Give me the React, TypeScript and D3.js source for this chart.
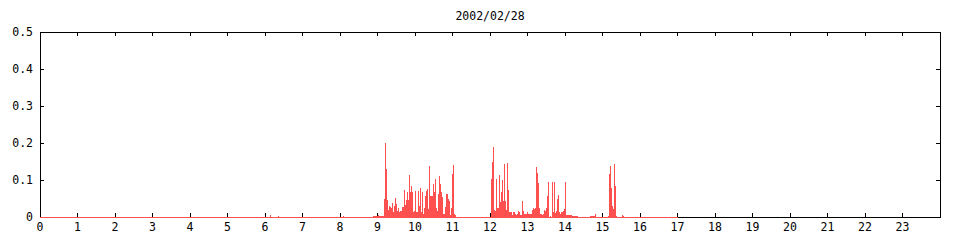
import React from "react";
import * as d3 from "d3";

const title = "2002/02/28";
const yTicks = [0, 0.1, 0.2, 0.3, 0.4, 0.5];
const yTickLabels = ["0", "0.1", "0.2", "0.3", "0.4", "0.5"];
const xTicks = d3.range(0, 24);
const xTickLabels = xTicks.map(String);

// sampling step of the series (1.6 minutes)
const stepMinutes = 1.6;
const seriesStartHour = 0;
const seriesEndHour = 17;

// isolated small samples
const sparseHours = [6.13, 6.35, 8.08];
const sparseValues = [0.006, 0.003, 0.003];

// contiguous runs of samples
const runStartHours = [8.88, 12.027, 14.667];
const runA = [
  0.004, 0.004, 0.004, 0.004, 0.004, 0.006, 0.002, 0.002, 0.002, 0.002, 0.002,
  0.05, 0.2, 0.13, 0.045, 0.02, 0.03, 0.027, 0.024, 0.038, 0.013, 0.03, 0.052,
  0.036, 0.015, 0.024, 0.013, 0.017, 0.017, 0.027, 0.027, 0.074, 0.032, 0.045,
  0.068, 0.047, 0.114, 0.068, 0.083, 0.068, 0.014, 0.016, 0.071, 0.014, 0.014,
  0.071, 0.031, 0.079, 0.013, 0.067, 0.009, 0.023, 0.058, 0.071, 0.076, 0.022,
  0.137, 0.058, 0.058, 0.056, 0.088, 0.067, 0.103, 0.023, 0.016, 0.061, 0.112,
  0.089, 0.068, 0.053, 0.007, 0.007, 0.027, 0.063, 0.063, 0.049, 0.043, 0.005,
  0.025, 0.115, 0.14, 0.007, 0.005,
];
const runB = [
  0.104, 0.15, 0.19, 0.02, 0.016, 0.104, 0.023, 0.024, 0.114, 0.041, 0.067,
  0.101, 0.044, 0.144, 0.044, 0.02, 0.146, 0.074, 0.014, 0.014, 0.014, 0.005,
  0.014, 0.014, 0.007, 0.005, 0.009, 0.017, 0.014, 0.006, 0.005, 0.042, 0.017,
  0.009, 0.009, 0.009, 0.014, 0.009, 0.009, 0.007, 0.009, 0.02, 0.023, 0.022,
  0.023, 0.134, 0.119, 0.092, 0.023, 0.007, 0.009, 0.006, 0.009, 0.018, 0.016,
  0.023, 0.058, 0.095, 0.001, 0.002, 0.001, 0.095, 0.013, 0.095, 0.011, 0.016,
  0.049, 0.06, 0.014, 0.009, 0.013, 0.014, 0.017, 0.022, 0.094, 0.006, 0.006,
  0.006, 0.006, 0.006, 0.006, 0.004, 0.004, 0.004, 0.004, 0.004, 0.004,
];
const runC = [
  0.004, 0.004, 0.004, 0.004, 0.004, 0.008, 0, 0, 0, 0, 0, 0, 0, 0, 0, 0, 0, 0,
  0.003, 0.117, 0.139, 0.078, 0.03, 0.022, 0.144, 0.083, 0.002, 0, 0, 0, 0, 0,
  0.006, 0.004,
];
const runs = [runA, runB, runC];

const W = 960;
const H = 240;
const margin = { left: 40, right: 20, top: 32, bottom: 23 };
const red = "#ff5050";
const font = "'DejaVu Sans Mono', monospace";

export default function App() {
  const x = d3.scaleLinear().domain([0, 24]).range([margin.left, W - margin.right]);
  const y = d3.scaleLinear().domain([0, 0.5]).range([H - margin.bottom, margin.top]);
  const step = stepMinutes / 60;

  const points: { h: number; v: number }[] = [];
  sparseHours.forEach((h, i) => points.push({ h, v: sparseValues[i] }));
  runs.forEach((r, ri) =>
    r.forEach((v, i) => points.push({ h: runStartHours[ri] + i * step, v }))
  );

  const x0 = margin.left;
  const x1 = W - margin.right;
  const y0 = y(0);
  const yTop = margin.top;
  const tl = 4;

  return (
    <svg
      width={W}
      height={H}
      style={{ position: "absolute", left: 0, top: 0, background: "#fff" }}
      fontFamily={font}
      fontSize={11.5}
    >
      <text x={(x0 + x1) / 2} y={20} textAnchor="middle" fill="#000">
        {title}
      </text>
      <rect
        x={x0}
        y={yTop}
        width={x1 - x0}
        height={y0 - yTop}
        fill="none"
        stroke="#000"
        strokeWidth={1}
        shapeRendering="crispEdges"
      />
      {yTicks.map((t, i) => (
        <g key={"y" + i} shapeRendering="crispEdges">
          <line x1={x0} x2={x0 + tl} y1={y(t)} y2={y(t)} stroke="#000" />
          <line x1={x1} x2={x1 - tl} y1={y(t)} y2={y(t)} stroke="#000" />
          <text x={x0 - 7} y={y(t) + 4} textAnchor="end" fill="#000">
            {yTickLabels[i]}
          </text>
        </g>
      ))}
      {xTicks.map((t, i) => (
        <g key={"x" + i} shapeRendering="crispEdges">
          <line x1={x(t)} x2={x(t)} y1={y0} y2={y0 - tl} stroke="#000" />
          <line x1={x(t)} x2={x(t)} y1={yTop} y2={yTop + tl} stroke="#000" />
          <text x={x(t)} y={y0 + 14} textAnchor="middle" fill="#000">
            {xTickLabels[i]}
          </text>
        </g>
      ))}
      <line
        x1={x(seriesStartHour)}
        x2={x(seriesEndHour)}
        y1={y0}
        y2={y0}
        stroke={red}
        shapeRendering="crispEdges"
      />
      <g fill={red} shapeRendering="crispEdges">
        {points
          .filter((p) => p.v > 0)
          .map((p, i) => {
            const xa = Math.round(x(p.h));
            const ya = y(p.v);
            return (
              <rect key={i} x={xa} y={ya} width={1} height={y0 + 0.5 - ya} />
            );
          })}
      </g>
    </svg>
  );
}
